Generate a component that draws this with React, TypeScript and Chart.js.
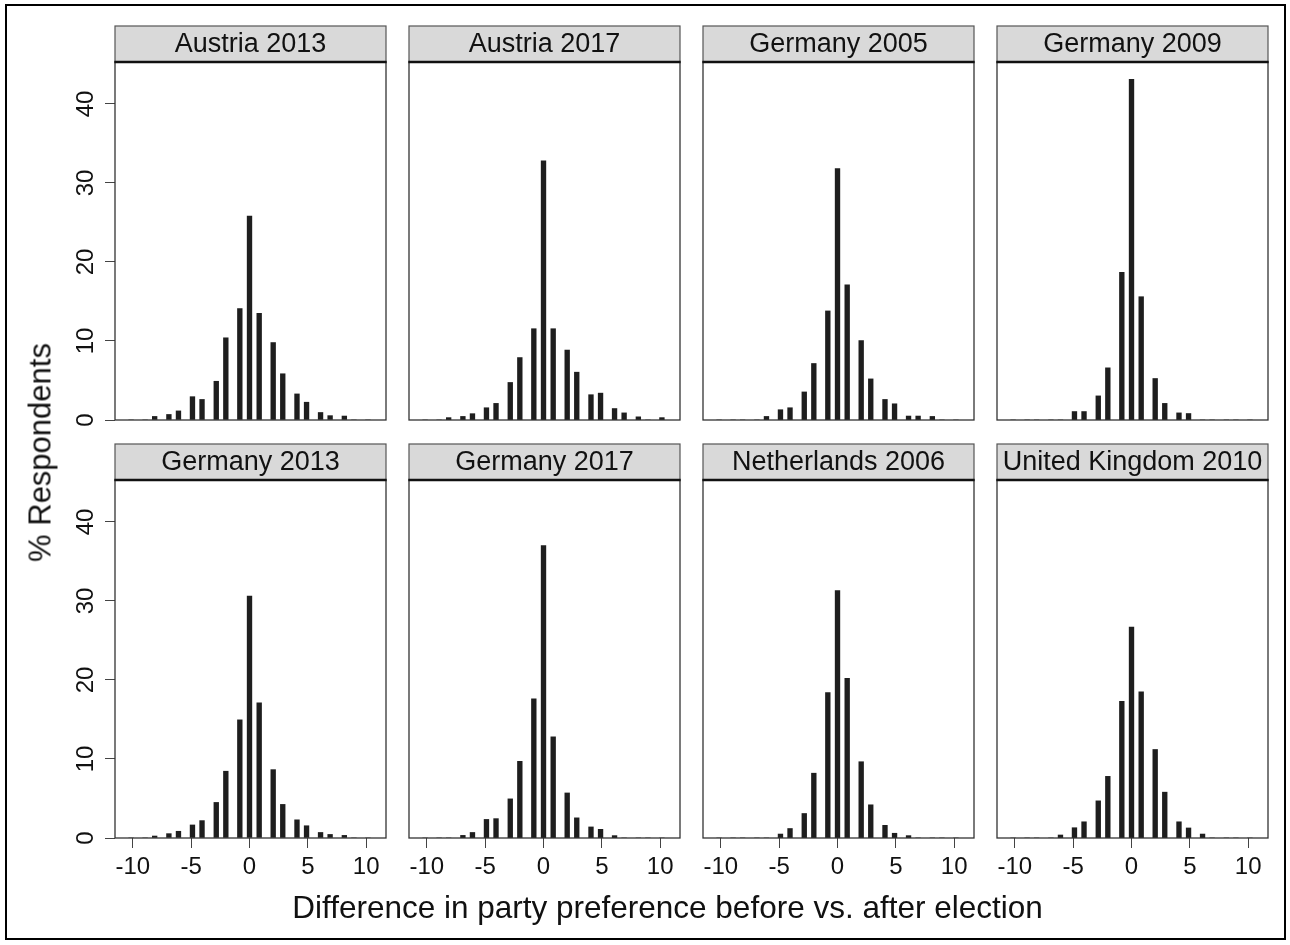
import React, { useEffect, useRef } from "react";
import { Chart, registerables } from "chart.js";

Chart.register(...registerables);

// ---------- data ----------
const binCenters = [-10.15, -8.95, -8.13, -6.91, -6.09, -4.89, -4.07, -2.85, -2.03, -0.83, 0, 0.83, 2.03, 2.85, 4.07, 4.89, 6.09, 6.91, 8.13, 8.95, 10.15];
const xTicks = [-10, -5, 0, 5, 10];
const yTicks = [0, 10, 20, 30, 40];

const panelTitles = [
  "Austria 2013",
  "Austria 2017",
  "Germany 2005",
  "Germany 2009",
  "Germany 2013",
  "Germany 2017",
  "Netherlands 2006",
  "United Kingdom 2010",
];

const austria2013 = [0, 0, 0.45, 0.7, 1.15, 2.95, 2.6, 4.9, 10.4, 14.1, 25.8, 13.5, 9.8, 5.85, 3.3, 2.25, 0.95, 0.55, 0.5, 0, 0];
const austria2017 = [0, 0, 0.3, 0.45, 0.8, 1.55, 2.1, 4.75, 7.9, 11.55, 32.8, 11.55, 8.85, 6.05, 3.2, 3.4, 1.45, 0.9, 0.4, 0, 0.3];
const germany2005 = [0, 0, 0, 0, 0.45, 1.3, 1.55, 3.55, 7.15, 13.8, 31.8, 17.1, 10.05, 5.2, 2.6, 2.05, 0.5, 0.5, 0.45, 0, 0];
const germany2009 = [0, 0, 0, 0, 0, 1.07, 1.07, 3.05, 6.6, 18.7, 43.1, 15.6, 5.25, 2.1, 0.9, 0.82, 0, 0, 0, 0, 0];
const germany2013 = [0, 0, 0.25, 0.55, 0.85, 1.65, 2.2, 4.5, 8.45, 14.95, 30.6, 17.1, 8.65, 4.25, 2.3, 1.55, 0.7, 0.45, 0.33, 0, 0];
const germany2017 = [0, 0, 0, 0.33, 0.7, 2.35, 2.45, 4.95, 9.7, 17.6, 37.0, 12.8, 5.7, 2.55, 1.4, 1.1, 0.3, 0, 0, 0, 0];
const netherlands2006 = [0, 0, 0, 0, 0, 0.5, 1.2, 3.1, 8.2, 18.4, 31.3, 20.2, 9.65, 4.2, 1.6, 0.6, 0.3, 0, 0, 0, 0];
const unitedKingdom2010 = [0, 0, 0, 0, 0.38, 1.3, 2.05, 4.7, 7.8, 17.3, 26.7, 18.5, 11.2, 5.8, 2.05, 1.27, 0.5, 0, 0, 0, 0];

const panelValues = [austria2013, austria2017, germany2005, germany2009, germany2013, germany2017, netherlands2006, unitedKingdom2010];

const xAxisTitle = "Difference in party preference before vs. after election";
const yAxisTitle = "% Respondents";

// ---------- layout ----------
const FONT = '"Liberation Sans", Arial, Helvetica, sans-serif';
const X_MIN = -11.53;
const X_MAX = 11.7;
const Y_MAX = 45.3;
const plotLefts = [115, 409, 703, 997];
const headerTops = [26, 444];
const HEADER_H = 36;
const PLOT_W = 271;
const PLOT_H = 358;
const TOP_PAD = 4;

function geom(i: number) {
  const r = Math.floor(i / 4);
  const c = i % 4;
  const padLeft = c === 0 ? 70 : 24;
  const padRight = 12;
  const padBottom = r === 1 ? 56 : 16;
  const left = plotLefts[c] - padLeft;
  const top = headerTops[r] - TOP_PAD;
  const width = padLeft + PLOT_W + padRight;
  const height = TOP_PAD + HEADER_H + PLOT_H + padBottom;
  return { r, c, padLeft, padRight, padBottom, left, top, width, height };
}

const panelDecor = {
  id: "panelDecor",
  afterDraw(chart: any, _args: any, opts: any) {
    const { ctx, chartArea: a } = chart;
    ctx.save();
    // plot border
    ctx.strokeStyle = "#333";
    ctx.lineWidth = 1.3;
    ctx.strokeRect(a.left, a.top, a.right - a.left, a.bottom - a.top);
    // strip
    const hTop = a.top - HEADER_H;
    ctx.fillStyle = "#d9d9d9";
    ctx.fillRect(a.left, hTop, a.right - a.left, HEADER_H);
    ctx.strokeStyle = "#555";
    ctx.lineWidth = 1.2;
    ctx.strokeRect(a.left, hTop, a.right - a.left, HEADER_H);
    ctx.strokeStyle = "#111";
    ctx.lineWidth = 2.6;
    ctx.beginPath();
    ctx.moveTo(a.left - 0.6, a.top);
    ctx.lineTo(a.right + 0.6, a.top);
    ctx.stroke();
    ctx.fillStyle = "#111";
    ctx.font = `27px ${FONT}`;
    ctx.textAlign = "center";
    ctx.textBaseline = "alphabetic";
    ctx.fillText(opts.title, (a.left + a.right) / 2, hTop + 25.7);
    // rotated y tick labels
    if (opts.yLabels) {
      const ys = chart.scales.y;
      ctx.font = `24px ${FONT}`;
      yTicks.forEach((v) => {
        const py = ys.getPixelForValue(v);
        ctx.save();
        ctx.translate(a.left - 21.7, py);
        ctx.rotate(-Math.PI / 2);
        ctx.fillText(String(v), 0, 0);
        ctx.restore();
      });
    }
    ctx.restore();
  },
};

export default function App() {
  const refs = useRef<(HTMLCanvasElement | null)[]>([]);

  useEffect(() => {
    const charts = panelTitles.map((title, i) => {
      const g = geom(i);
      const canvas = refs.current[i] as HTMLCanvasElement;
      const values = panelValues[i];
      return new Chart(canvas, {
        type: "bar",
        data: {
          datasets: [
            {
              data: binCenters.map((x, k) => ({ x, y: values[k] })),
              backgroundColor: "#1e1e1e",
              borderWidth: 0,
              barThickness: 4.7,
            } as any,
          ],
        },
        options: {
          animation: false,
          responsive: false,
          maintainAspectRatio: false,
          devicePixelRatio: 1,
          events: [],
          layout: {
            padding: {
              top: TOP_PAD + HEADER_H,
              left: g.c === 0 ? 0 : g.padLeft,
              right: g.padRight,
              bottom: g.r === 1 ? 0 : g.padBottom,
            },
          },
          scales: {
            x: {
              type: "linear",
              display: g.r === 1,
              min: X_MIN,
              max: X_MAX,
              offset: false,
              afterBuildTicks: (scale: any) => {
                scale.ticks = xTicks.map((v) => ({ value: v }));
              },
              afterFit: (scale: any) => {
                if (g.r === 1) scale.height = g.padBottom;
                else scale.height = 0;
              },
              grid: {
                offset: false,
                drawOnChartArea: false,
                drawTicks: true,
                tickLength: 10,
                color: "#444",
                lineWidth: 1,
              },
              border: { display: false },
              ticks: {
                autoSkip: false,
                maxRotation: 0,
                minRotation: 0,
                padding: 5,
                color: "#111",
                font: { family: FONT, size: 24 },
                callback: (v: any) => String(v),
              },
            },
            y: {
              type: "linear",
              display: g.c === 0,
              min: 0,
              max: Y_MAX,
              afterBuildTicks: (scale: any) => {
                scale.ticks = yTicks.map((v) => ({ value: v }));
              },
              afterFit: (scale: any) => {
                if (g.c === 0) scale.width = g.padLeft;
                else scale.width = 0;
              },
              grid: {
                drawOnChartArea: false,
                drawTicks: true,
                tickLength: 10,
                color: "#444",
                lineWidth: 1,
              },
              border: { display: false },
              ticks: { display: false },
            },
          },
          plugins: {
            legend: { display: false },
            tooltip: { enabled: false },
            title: { display: false },
            panelDecor: { title, yLabels: g.c === 0 },
          } as any,
        },
        plugins: [panelDecor],
      } as any);
    });
    return () => charts.forEach((ch) => ch.destroy());
  }, []);

  return (
    <div
      style={{
        position: "absolute",
        left: 0,
        top: 0,
        width: 1290,
        height: 945,
        background: "#fff",
        overflow: "hidden",
        fontFamily: FONT,
      }}
    >
      <div
        style={{
          position: "absolute",
          left: 5,
          top: 4,
          width: 1281,
          height: 936,
          border: "2px solid #000",
          boxSizing: "border-box",
        }}
      />
      {panelTitles.map((t, i) => {
        const g = geom(i);
        return (
          <canvas
            key={t}
            ref={(el) => {
              refs.current[i] = el;
            }}
            width={g.width}
            height={g.height}
            style={{ position: "absolute", left: g.left, top: g.top, width: g.width, height: g.height }}
          />
        );
      })}
      <div
        style={{
          position: "absolute",
          left: 667.5 - 450,
          top: 892,
          width: 900,
          fontSize: 31.5,
          lineHeight: "31.5px",
          textAlign: "center",
          color: "#111",
          whiteSpace: "nowrap",
        }}
      >
        {xAxisTitle}
      </div>
      <div
        style={{
          position: "absolute",
          left: 39.7 - 200,
          top: 452.5 - 15.5,
          width: 400,
          height: 31,
          fontSize: 31,
          lineHeight: "31px",
          textAlign: "center",
          color: "#111",
          whiteSpace: "nowrap",
          transform: "rotate(-90deg)",
          transformOrigin: "50% 50%",
        }}
      >
        {yAxisTitle}
      </div>
    </div>
  );
}
